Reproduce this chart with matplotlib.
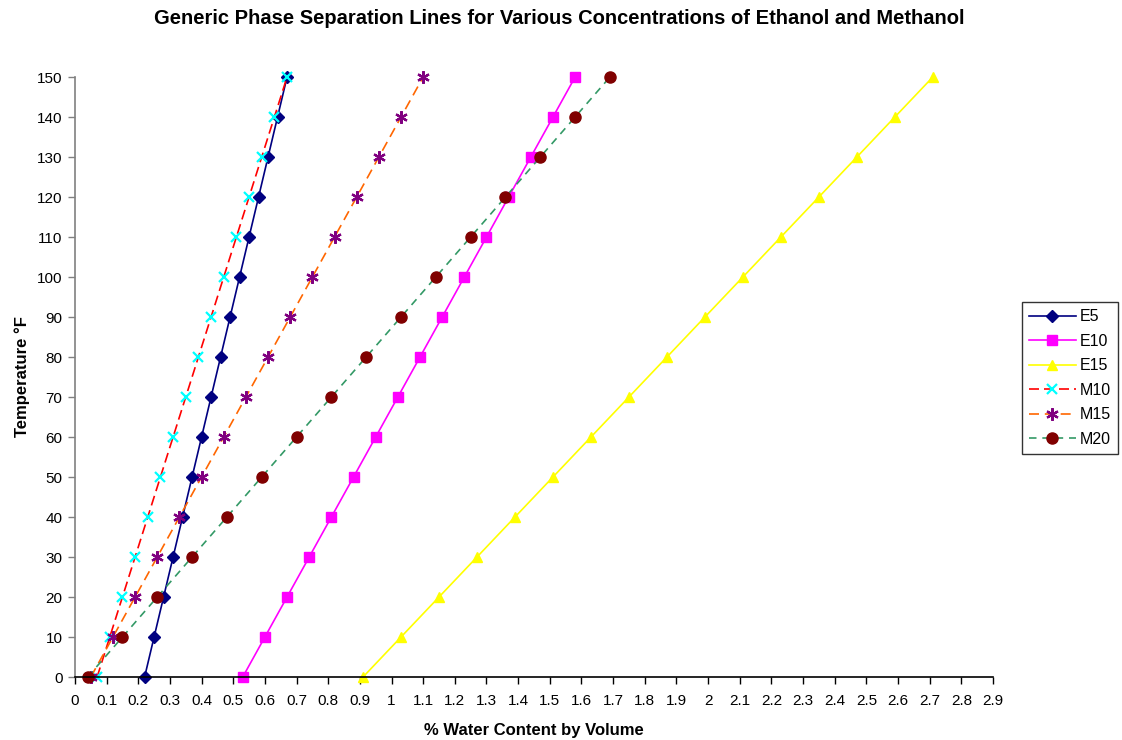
import matplotlib
matplotlib.use("Agg")
import matplotlib.pyplot as plt

plt.rcParams["font.family"] = ["Liberation Sans", "DejaVu Sans"]

# Temperatura (°F) y contenido de agua (% en volumen) en la separacion de fases
temps = [0, 10, 20, 30, 40, 50, 60, 70, 80, 90, 100, 110, 120, 130, 140, 150]

e5 = [0.22, 0.25, 0.28, 0.31, 0.34, 0.37, 0.40, 0.43, 0.46, 0.49, 0.52, 0.55, 0.58, 0.61, 0.64, 0.67]
e10 = [0.53, 0.60, 0.67, 0.74, 0.81, 0.88, 0.95, 1.02, 1.09, 1.16, 1.23, 1.30, 1.37, 1.44, 1.51, 1.58]
e15 = [0.91, 1.03, 1.15, 1.27, 1.39, 1.51, 1.63, 1.75, 1.87, 1.99, 2.11, 2.23, 2.35, 2.47, 2.59, 2.71]
m10 = [0.07, 0.11, 0.15, 0.19, 0.23, 0.27, 0.31, 0.35, 0.39, 0.43, 0.47, 0.51, 0.55, 0.59, 0.63, 0.67]
m15 = [0.05, 0.12, 0.19, 0.26, 0.33, 0.40, 0.47, 0.54, 0.61, 0.68, 0.75, 0.82, 0.89, 0.96, 1.03, 1.10]
m20 = [0.04, 0.15, 0.26, 0.37, 0.48, 0.59, 0.70, 0.81, 0.92, 1.03, 1.14, 1.25, 1.36, 1.47, 1.58, 1.69]

x_ticks = [i / 10 for i in range(30)]
x_tick_labels = ["0", "0.1", "0.2", "0.3", "0.4", "0.5", "0.6", "0.7", "0.8", "0.9",
                 "1", "1.1", "1.2", "1.3", "1.4", "1.5", "1.6", "1.7", "1.8", "1.9",
                 "2", "2.1", "2.2", "2.3", "2.4", "2.5", "2.6", "2.7", "2.8", "2.9"]
y_ticks = temps

fig = plt.figure(figsize=(11.22, 7.4), dpi=100)
ax = fig.add_axes([0.0668, 0.0851, 0.8182, 0.8108])

lw = 1.2
ax.plot(e5, temps, color="#000080", lw=lw, marker="D", ms=6.5,
        mfc="#000080", mec="#000080", label="E5")
ax.plot(e10, temps, color="#FF00FF", lw=lw, marker="s", ms=7.5,
        mfc="#FF00FF", mec="#FF00FF", label="E10")
ax.plot(e15, temps, color="#FFFF00", lw=lw, marker="^", ms=7.5,
        mfc="#FFFF00", mec="#FFFF00", label="E15")
ax.plot(m10, temps, color="#FF0000", lw=lw, ls=(0, (6, 3)), marker="x", ms=7.5,
        mec="#00FFFF", mew=1.6, label="M10")
ax.plot(m15, temps, color="#FF6600", lw=lw, ls=(0, (6, 3.5)), marker=(6, 2, 0), ms=9,
        mec="#800080", mew=1.6, label="M15")
ax.plot(m20, temps, color="#339966", lw=lw, ls=(0, (4.5, 3.5)), marker="o", ms=8,
        mfc="#800000", mec="#800000", label="M20")

ax.set_xlim(0, 2.9)
ax.set_ylim(0, 150)
ax.set_xticks(x_ticks)
ax.set_xticklabels(x_tick_labels)
ax.set_yticks(y_ticks)
ax.tick_params(axis="both", direction="out", length=5, width=1, labelsize=11,
               pad=4)
ax.tick_params(axis="x", pad=7)
ax.tick_params(axis="y", color="#808080")

for side in ["top", "right"]:
    ax.spines[side].set_visible(False)
ax.spines["left"].set_color("#808080")
ax.spines["bottom"].set_color("black")
for sp in ax.spines.values():
    sp.set_linewidth(1.2)
for l in ax.get_lines():
    l.set_clip_on(False)

fig.suptitle("Generic Phase Separation Lines for Various Concentrations of Ethanol and Methanol",
             x=0.4985, y=0.988, fontsize=14.5, fontweight="bold")
ax.set_xlabel("% Water Content by Volume", fontsize=12, fontweight="bold", labelpad=11)
ax.set_ylabel("Temperature °F", fontsize=12, fontweight="bold", labelpad=5)

leg = fig.legend(loc="upper left", bbox_to_anchor=(0.911, 0.592), fontsize=11.5,
                 frameon=True, fancybox=False, edgecolor="black", handlelength=2.9,
                 handletextpad=0.25, borderpad=0.45, labelspacing=0.6, borderaxespad=0)
leg.get_frame().set_linewidth(1.0)

fig.savefig("out.png", dpi=100)
